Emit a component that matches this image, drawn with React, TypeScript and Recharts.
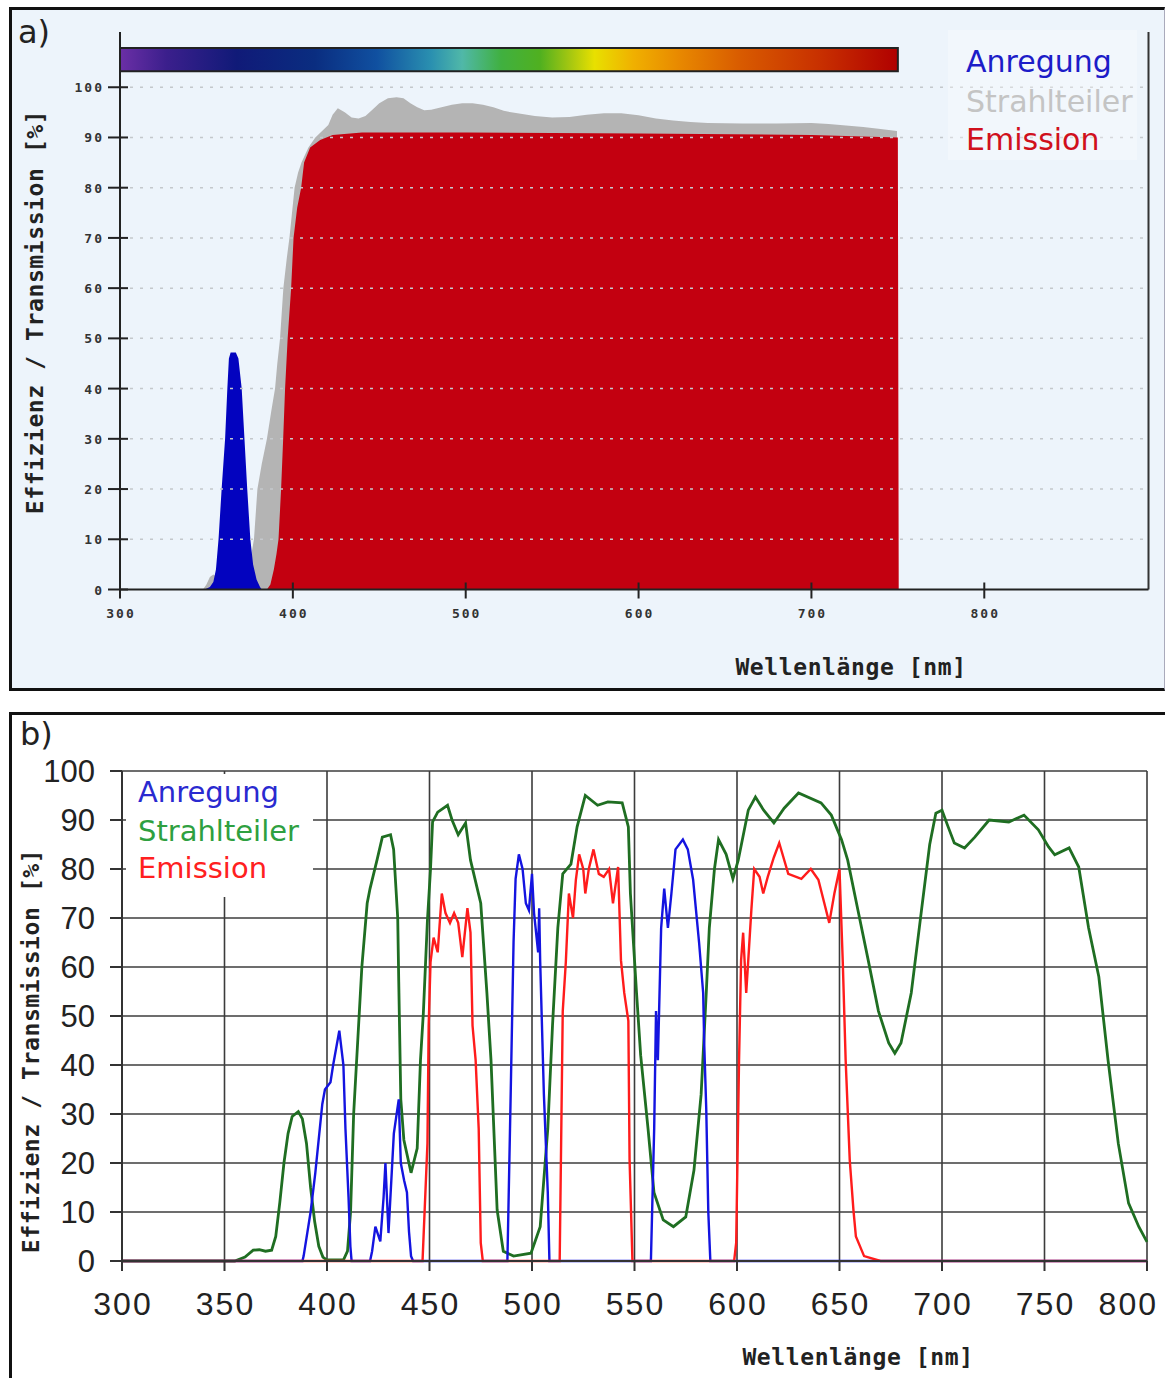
import { Area, AreaChart, CartesianGrid, Line, LineChart, ReferenceArea, ReferenceLine, XAxis, YAxis } from "recharts";

// ---- panel a (filled spectra) ----
const anregungA: [number, number][] = [
  [349, 0], [352, 0.5], [354, 1.5], [355.5, 4], [357, 10], [358.8, 20], [360.8, 30], [362.1, 40], [363, 46],
  [364, 47.2], [367, 47.2], [368.5, 46], [370.4, 40], [372, 30], [373.6, 20], [375.4, 10], [377, 5], [379, 2],
  [381, 0.5], [382, 0],
];

const strahlteilerA: [number, number][] = [
  [348, 0], [350, 1], [352, 2.5], [354, 3], [356, 2.5], [360, 2], [366, 2], [372, 3], [375, 5], [377.5, 10],
  [379.5, 20], [382, 25], [385, 30], [387.5, 35.5], [389.7, 40], [391, 45], [392.6, 50],
  [394.5, 60], [396.5, 66], [398, 70], [401, 80], [403, 83], [405, 85], [409, 88], [413, 90], [416, 91],
  [420.5, 92.5], [423, 94.5], [426, 95.8], [430, 95], [434, 94], [438, 93.8], [442, 94.3], [446, 95.5],
  [450, 96.8], [455, 97.8], [460, 98], [464, 97.8], [468, 96.8], [472, 96], [476, 95.4], [480, 95.5],
  [486, 96], [492, 96.5], [498, 96.8], [504, 96.8], [510, 96.5], [516, 96], [522, 95.3], [530, 94.8],
  [540, 94.3], [550, 94], [560, 94.1], [570, 94.5], [580, 94.8], [590, 94.8], [600, 94.4], [610, 93.8],
  [620, 93.4], [630, 93.1], [640, 92.9], [660, 92.8], [680, 92.8], [700, 92.9], [710, 92.7], [720, 92.4],
  [730, 92.1], [740, 91.7], [749.5, 91.3], [750, 0],
];

const emissionA: [number, number][] = [
  [385, 0], [387, 1], [389, 4], [390.5, 7], [391.7, 10], [393.2, 20], [394.4, 30], [395.5, 40], [397, 50],
  [399, 60], [400.4, 70], [402.5, 76], [404.8, 80], [406.5, 85], [410, 88], [415.8, 89.5], [423, 90.5],
  [440, 91], [500, 91], [600, 90.8], [700, 90.5], [750, 90], [750.5, 0],
];

// ---- panel b (line spectra) ----
const anregungB: [number, number][] = [
  [300, 0], [388, 0], [388.6, 1], [392, 10], [394.3, 18], [397.7, 32], [399, 35], [401.7, 36.5], [403, 40],
  [406, 47], [408, 40], [409, 27], [410.5, 13], [411.4, 3], [412, 0], [421, 0], [422, 2], [423.6, 7], [426, 4],
  [427.6, 13], [428.5, 20], [430, 5.7], [432.6, 26], [435, 33], [436, 20], [437.6, 16.5], [439, 14], [440, 6],
  [441, 1], [442, 0], [488, 0], [489.6, 34], [491, 65], [492, 78], [493.6, 83], [495.4, 80], [497, 73],
  [498.5, 71.6], [500, 79], [501, 71], [503, 63], [503.5, 72], [504, 61], [505.8, 34], [507.7, 14], [508.5, 0],
  [558, 0], [559.6, 27], [560.5, 51], [561.4, 41], [562, 51], [563, 68], [564.5, 76], [566.3, 68], [568, 75],
  [570, 84], [573.6, 86], [576, 84], [578.6, 77.8], [580, 71.6], [581.5, 65], [583.5, 54.7], [584, 44.5],
  [585, 31], [586, 10], [587, 0], [800, 0],
];

const strahlteilerB: [number, number][] = [
  [300, 0], [355, 0], [360, 0.8], [364, 2.2], [367, 2.3], [370, 2], [373, 2.2], [375, 5], [377, 12], [379, 20],
  [381, 26], [383, 29.5], [386, 30.5], [388, 29], [390, 24], [392, 15], [394, 8], [396, 3], [398, 0.8],
  [400, 0.2], [408, 0.2], [410, 2], [411.5, 10], [413, 30], [415, 45], [417, 60], [419.6, 73], [421, 76],
  [424.5, 82], [427, 86.5], [431, 87], [432.5, 84], [434.5, 70], [435, 57], [436, 33], [437.5, 24.7],
  [441, 18], [444, 23], [445.6, 41], [447, 50.6], [449, 69.6], [450.5, 80], [451.5, 89.6], [454, 91.6],
  [458.8, 93], [461, 90], [464, 87], [467.6, 89.4], [470, 81.8], [475, 73], [478, 54.7], [480, 41],
  [483, 10.4], [486, 2], [491, 1], [499.5, 1.6], [504, 7], [507.7, 27], [510, 48], [512.6, 68], [515, 79],
  [519, 81], [522, 88.6], [526, 95], [532, 93], [537, 93.7], [544, 93.5], [547, 88.6], [548, 75],
  [551, 54.7], [553, 42], [556.6, 27], [559.5, 14], [564, 8.4], [569, 7], [575, 9], [579, 18.5], [582.5, 34],
  [585, 54.7], [586.5, 68], [589, 80], [591, 86], [594.7, 83], [598, 78], [600.6, 81.8], [605.5, 92],
  [609, 94.7], [613, 92], [618, 89.4], [623, 92.4], [630, 95.5], [641, 93.5], [646, 91], [651, 86],
  [654, 81.8], [659, 71.6], [664, 61.4], [669, 51], [674, 44.5], [677, 42.4], [680, 44.5], [685, 54.7],
  [690, 71.6], [694, 85], [697, 91.4], [700, 92], [703, 88.6], [706, 85.3], [711, 84.3], [716, 86.5],
  [723, 90], [732.6, 89.6], [740, 91], [747, 88], [752, 84.5], [755, 82.9], [762, 84.3], [766.7, 80.4],
  [771.5, 68], [776.5, 58], [781, 41], [786, 24], [791, 11.8], [796, 7], [800, 3.9],
];

const emissionB: [number, number][] = [
  [300, 0], [446.6, 0], [449, 24], [449.6, 48], [450.5, 61], [452, 66], [454, 63], [456, 75], [457.8, 71],
  [460, 69], [462, 71], [464, 69], [466, 62], [468.5, 72], [470, 67], [471, 48], [472.5, 41], [474, 27],
  [475, 3.7], [476, 0], [513.5, 0], [515, 51], [516.5, 61], [518, 75], [520, 70], [521.4, 77.8], [523, 83],
  [525, 80], [526, 75], [527.7, 80], [530, 84], [532.6, 79], [535, 78.4], [537.6, 80], [539.5, 73],
  [542, 80.4], [543.4, 61.4], [545, 54.7], [547, 49], [547.6, 20.6], [549, 0], [598.6, 0], [599.6, 3.7],
  [601, 41], [602, 61.4], [603, 67], [604.5, 54.7], [605.5, 61.4], [607, 71.6], [608.4, 80], [611, 78.4],
  [612.8, 75], [615, 78.4], [618, 82.4], [620.6, 85.3], [625, 79], [631.4, 78], [636, 80], [639.7, 77.8],
  [642.6, 73], [645, 69], [647.5, 75], [650, 80], [651.6, 61], [653, 41], [655, 20.6], [656.8, 10.4],
  [658, 5], [662, 1], [670, 0], [800, 0],
];

const yTicks = [0, 10, 20, 30, 40, 50, 60, 70, 80, 90, 100];
const gridA = [10, 20, 30, 40, 50, 60, 70, 80, 90, 100];
const xTicksA = [300, 400, 500, 600, 700, 800];
const xTicksB = [300, 350, 400, 450, 500, 550, 600, 650, 700, 750, 800];
const legendNames = ["Anregung", "Strahlteiler", "Emission"];
const yTitle = "Effizienz / Transmission [%]";
const xTitle = "Wellenlänge [nm]";

function mergeSeries(series: Record<string, [number, number][]>) {
  const rows = new Map<number, Record<string, number>>();
  for (const [key, pts] of Object.entries(series)) {
    for (const [x, y] of pts) {
      const row = rows.get(x) ?? { x };
      row[key] = y;
      rows.set(x, row);
    }
  }
  return [...rows.values()].sort((a, b) => a.x - b.x);
}

const dataA = mergeSeries({ anregung: anregungA, strahlteiler: strahlteilerA, emission: emissionA });
const dataB = mergeSeries({ anregung: anregungB, strahlteiler: strahlteilerB, emission: emissionB });

const mono = "'DejaVu Sans Mono', monospace";
const sans = "'Liberation Sans', Arial, sans-serif";

function TickAY(props: any) {
  const { x, y, payload } = props;
  return (
    <g>
      <line x1={x - 12} x2={x + 8} y1={y} y2={y} stroke="#222" strokeWidth={2} />
      <text x={x - 16} y={y} dy={5} textAnchor="end" fontFamily={mono} fontWeight="bold" fontSize={13} fill="#333" letterSpacing={2}>
        {payload.value}
      </text>
    </g>
  );
}

function TickAX(props: any) {
  const { x, y, payload } = props;
  return (
    <g>
      <line x1={x} x2={x} y1={y - 7} y2={y + 9} stroke="#222" strokeWidth={2} />
      <text x={x + 1} y={y + 28} textAnchor="middle" fontFamily={mono} fontWeight="bold" fontSize={13} fill="#333" letterSpacing={2}>
        {payload.value}
      </text>
    </g>
  );
}

// last label of panel b is pulled inside the frame, as in the original
function TickBX(props: any) {
  const { x, y, payload } = props;
  const last = payload.value === 800;
  return (
    <text x={last ? 1158 : x + 1} y={y + 44} textAnchor={last ? "end" : "middle"} fontFamily={sans} fontSize={32} fill="#222" letterSpacing={2}>
      {payload.value}
    </text>
  );
}

export default function App() {
  return (
    <div style={{ position: "relative", width: 1165, height: 1378, overflow: "hidden", background: "#fff" }}>
      <style>{"body{margin:0}"}</style>

      {/* panel frames */}
      <div
        style={{
          position: "absolute", left: 9, top: 7, width: 1156, height: 684, boxSizing: "border-box",
          background: "#edf4fb", borderTop: "3px solid #111", borderLeft: "3px solid #111",
          borderBottom: "3px solid #111", borderRight: "1px solid #aab",
        }}
      />
      <div
        style={{
          position: "absolute", left: 9, top: 712, width: 1180, height: 700, boxSizing: "border-box",
          background: "#fff", border: "3px solid #111",
        }}
      />

      {/* panel a */}
      <div style={{ position: "absolute", left: 0, top: 0 }}>
        <AreaChart width={1165} height={700} data={dataA} margin={{ top: 32, right: 16.5, left: 60, bottom: 50.5 }}>
          <defs>
            <linearGradient id="spec" x1="0" y1="0" x2="1" y2="0">
              <stop offset="0" stopColor="#6b2fa6" />
              <stop offset="0.06" stopColor="#3b1f8c" />
              <stop offset="0.15" stopColor="#101a78" />
              <stop offset="0.25" stopColor="#0a2d80" />
              <stop offset="0.33" stopColor="#1050a0" />
              <stop offset="0.40" stopColor="#2a90b0" />
              <stop offset="0.44" stopColor="#50b8a8" />
              <stop offset="0.49" stopColor="#40b040" />
              <stop offset="0.54" stopColor="#50b020" />
              <stop offset="0.58" stopColor="#a8c810" />
              <stop offset="0.61" stopColor="#e8e000" />
              <stop offset="0.66" stopColor="#f0b000" />
              <stop offset="0.72" stopColor="#e88800" />
              <stop offset="0.80" stopColor="#d85a00" />
              <stop offset="0.90" stopColor="#c83000" />
              <stop offset="1" stopColor="#b00000" />
            </linearGradient>
          </defs>
          <XAxis
            dataKey="x" type="number" domain={[300, 895]} ticks={xTicksA} allowDataOverflow
            height={60} tickSize={0} tickMargin={0} tickLine={false}
            axisLine={{ stroke: "#222", strokeWidth: 2 }} tick={(p: any) => <TickAX {...p} />}
          />
          <YAxis
            type="number" domain={[0, 111]} ticks={yTicks} allowDataOverflow width={60}
            tickSize={0} tickMargin={0} tickLine={false}
            axisLine={{ stroke: "#222", strokeWidth: 2 }} tick={(p: any) => <TickAY {...p} />}
          />
          <Area dataKey="strahlteiler" type="linear" stroke="none" fill="#b4b4b4" fillOpacity={1} connectNulls isAnimationActive={false} dot={false} activeDot={false} />
          <Area dataKey="emission" type="linear" stroke="none" fill="#c30010" fillOpacity={1} connectNulls isAnimationActive={false} dot={false} activeDot={false} />
          <Area dataKey="anregung" type="linear" stroke="none" fill="#0303bf" fillOpacity={1} connectNulls isAnimationActive={false} dot={false} activeDot={false} />
          {gridA.map((v) => (
            <ReferenceLine key={v} y={v} stroke="#c4c8cc" strokeWidth={1.5} strokeDasharray="3 7" />
          ))}
          <ReferenceLine x={895} stroke="#333" strokeWidth={2} />
          <ReferenceArea x1={300} x2={750} y1={103.2} y2={107.8} fill="url(#spec)" fillOpacity={1} stroke="#222" strokeWidth={2} />
        </AreaChart>
      </div>

      {/* panel b */}
      <div style={{ position: "absolute", left: 0, top: 700 }}>
        <LineChart width={1165} height={678} data={dataB} margin={{ top: 71, right: 18, left: 60, bottom: 57 }}>
          <CartesianGrid stroke="#3c3c3c" strokeWidth={1.6} />
          <XAxis
            dataKey="x" type="number" domain={[300, 800]} ticks={xTicksB} height={60}
            tickSize={10} tickMargin={0} tickLine={{ stroke: "#333", strokeWidth: 2 }}
            axisLine={{ stroke: "#333", strokeWidth: 2 }} tick={(p: any) => <TickBX {...p} />}
          />
          <YAxis
            type="number" domain={[0, 100]} ticks={yTicks} width={62}
            tickSize={12} tickMargin={15} tickLine={{ stroke: "#333", strokeWidth: 2 }}
            axisLine={{ stroke: "#333", strokeWidth: 2 }}
            tick={{ fontFamily: sans, fontSize: 31, fill: "#222" }}
          />
          <Line dataKey="strahlteiler" type="linear" stroke="#1f6e22" strokeWidth={2.8} dot={false} activeDot={false} connectNulls isAnimationActive={false} />
          <Line dataKey="anregung" type="linear" stroke="#1414e0" strokeWidth={2.4} dot={false} activeDot={false} connectNulls isAnimationActive={false} />
          <Line dataKey="emission" type="linear" stroke="#ff1c1c" strokeWidth={2.4} dot={false} activeDot={false} connectNulls isAnimationActive={false} />
        </LineChart>
      </div>

      {/* labels, legends and titles */}
      <svg width={1165} height={1378} style={{ position: "absolute", left: 0, top: 0, pointerEvents: "none" }}>
        <text x={18} y={43} fontFamily="'DejaVu Sans', sans-serif" fontSize={32} fill="#222">a)</text>
        <text x={20} y={745} fontFamily="'DejaVu Sans', sans-serif" fontSize={32} fill="#222">b)</text>

        <rect x={948} y={30} width={189} height={130} fill="#ffffff" fillOpacity={0.3} />
        {legendNames.map((name, i) => (
          <text key={name} x={966} y={[72, 112, 150][i]} fontFamily="'DejaVu Sans', sans-serif" fontSize={30}
            fill={["#1c1cc8", "#c4c4c4", "#d0101c"][i]}>
            {name}
          </text>
        ))}

        <rect x={126} y={774} width={187} height={123} fill="#ffffff" />
        {legendNames.map((name, i) => (
          <text key={name} x={138} y={[802, 841, 878][i]} fontFamily="'DejaVu Sans', sans-serif" fontSize={29}
            fill={["#2a2ad0", "#2ea040", "#ff2020"][i]}>
            {name}
          </text>
        ))}

        <text x={35} y={312} transform="rotate(-90 35 312)" textAnchor="middle" dominantBaseline="central"
          fontFamily={mono} fontWeight="bold" fontSize={23} letterSpacing={0.6} fill="#222">{yTitle}</text>
        <text x={851} y={667} textAnchor="middle" dominantBaseline="central"
          fontFamily={mono} fontWeight="bold" fontSize={23} letterSpacing={0.6} fill="#222">{xTitle}</text>
        <text x={31} y={1051} transform="rotate(-90 31 1051)" textAnchor="middle" dominantBaseline="central"
          fontFamily={mono} fontWeight="bold" fontSize={23} letterSpacing={0.6} fill="#222">{yTitle}</text>
        <text x={858} y={1357} textAnchor="middle" dominantBaseline="central"
          fontFamily={mono} fontWeight="bold" fontSize={23} letterSpacing={0.6} fill="#222">{xTitle}</text>
      </svg>
    </div>
  );
}
